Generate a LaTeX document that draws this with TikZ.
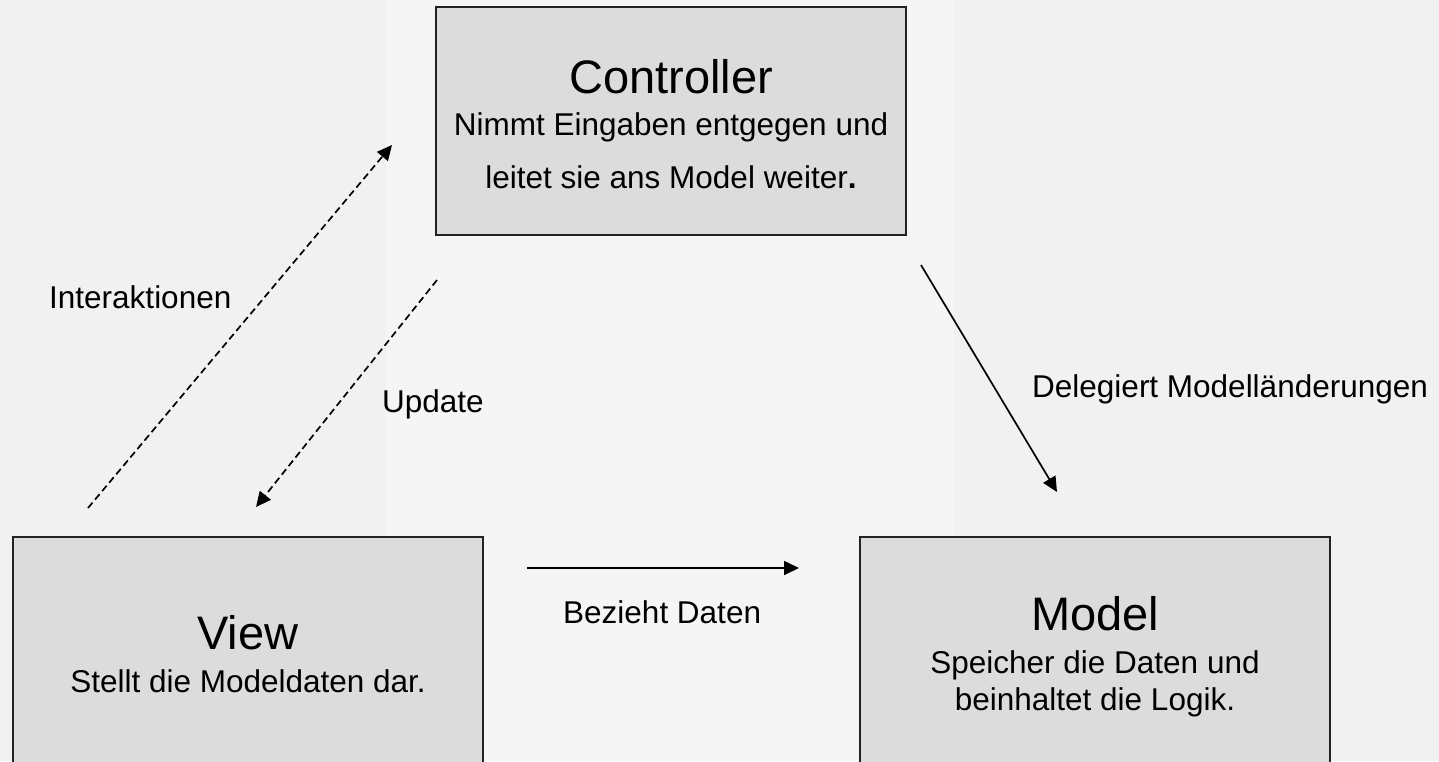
\documentclass[tikz,border=0pt]{standalone}
\usepackage{fontspec}
\setmainfont{Liberation Sans}
\usetikzlibrary{arrows.meta}
\definecolor{paper}{HTML}{F1F1F1}
\definecolor{paperlight}{HTML}{F5F5F5}
\definecolor{boxfill}{HTML}{DCDCDC}
\definecolor{boxline}{HTML}{222222}
\begin{document}
\begin{tikzpicture}[x=1pt,y=-1pt,
  mvcbox/.style={rectangle, draw=boxline, line width=1.8pt, fill=boxfill,
                 minimum width=470pt, inner sep=0pt},
  title/.style={anchor=base, inner sep=0pt, font=\fontsize{47}{56}\selectfont},
  body/.style={anchor=base, inner sep=0pt, font=\fontsize{31.5}{38}\selectfont},
  lbl/.style={anchor=base west, inner sep=0pt, font=\fontsize{31.5}{38}\selectfont},
  link/.style={line width=1.7pt, -{Triangle[length=15pt,width=14pt]}},
  dashlink/.style={link, dash pattern=on 7pt off 4pt}]

  % page and paper background
  \useasboundingbox (0,0) rectangle (1439,761);
  \clip (0,0) rectangle (1439,761);
  \fill[paper] (0,0) rectangle (1439,761);
  \fill[paperlight] (386,0) rectangle (953,761);

  % the three components
  \node[mvcbox, minimum height=228pt] (controller) at (671,121) {};
  \node[mvcbox, minimum height=270pt] (view) at (248,672) {};
  \node[mvcbox, minimum height=270pt] (model) at (1095,672) {};

  % controller text
  \node[title] (ctitle) at (671,93) {Controller};
  \node[body] (cbody1) at (671,135) {Nimmt Eingaben entgegen und};
  \node[body] (cbody2) at (671,188) {leitet sie ans Model weiter\textbf{.}};

  % view text
  \node[title] (vtitle) at (248,649) {View};
  \node[body] (vbody) at (248,692) {Stellt die Modeldaten dar.};

  % model text
  \node[title] (mtitle) at (1095,630) {Model};
  \node[body] (mbody1) at (1095,673) {Speicher die Daten und};
  \node[body] (mbody2) at (1095,710) {beinhaltet die Logik.};

  % connector end points
  \coordinate (inter-from) at (88,508);
  \coordinate (inter-to)   at (392,145);
  \coordinate (upd-from)   at (437,280);
  \coordinate (upd-to)     at (256,507);
  \coordinate (data-from)  at (527,568);
  \coordinate (data-to)    at (799,568);
  \coordinate (deleg-from) at (921,265);
  \coordinate (deleg-to)   at (1057,492);

  % connectors
  \draw[dashlink] (inter-from) -- (inter-to);
  \draw[dashlink] (upd-from) -- (upd-to);
  \draw[link] (data-from) -- (data-to);
  \draw[link] (deleg-from) -- (deleg-to);

  % connector labels
  \node[lbl] (l-inter) at (49,308) {Interaktionen};
  \node[lbl] (l-upd)   at (382,412) {Update};
  \node[lbl] (l-data)  at (563,623) {Bezieht Daten};
  \node[lbl] (l-deleg) at (1032,397) {Delegiert Modelländerungen};
\end{tikzpicture}
\end{document}
